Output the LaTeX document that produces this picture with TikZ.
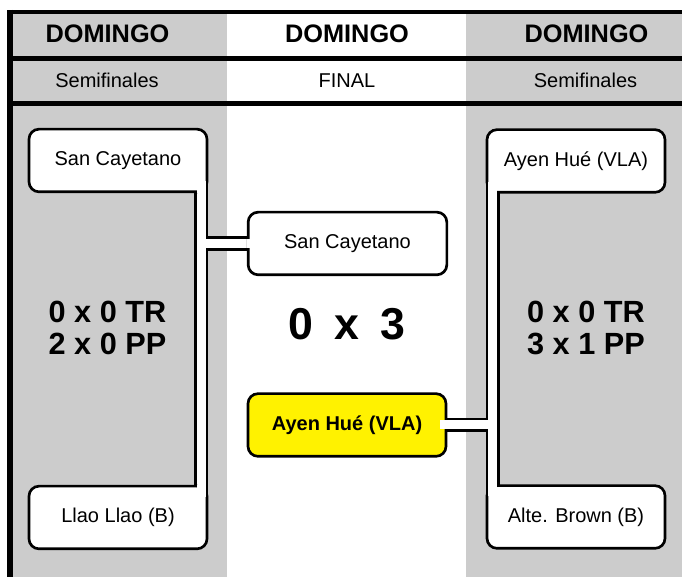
\documentclass[tikz,border=0pt]{standalone}
\usepackage{fontspec}
\setmainfont{Liberation Sans}
\pgfdeclarelayer{back}
\pgfdeclarelayer{links}
\pgfsetlayers{back,links,main}
\definecolor{colgray}{RGB}{204,204,204}
\tikzset{
    team/.style={draw, line width=2pt, rounded corners=7.5pt, fill=white, inner sep=0pt, outer sep=0pt,
        minimum width=133.5pt, minimum height=47pt, font=\fontsize{15}{18}\selectfont},
    link/.style={draw=black, line width=2pt, double=white, double distance=6.75pt},
    gap/.style={draw=white, line width=6.75pt},
    hline/.style={line width=3.5pt},
    head/.style={anchor=base, font=\fontsize{19}{22}\selectfont\bfseries},
    sub/.style={anchor=base, font=\fontsize{15}{18}\selectfont},
    score/.style={align=center, font=\fontsize{23}{24}\selectfont\bfseries}
}

\begin{document}
\begin{tikzpicture}[x=0.75pt, y=0.75pt]
    \useasboundingbox (0,0) rectangle (682,577);
    \node[team] (sl1) at (118,416.5) {San Cayetano};
    \node[team] (sl2) at (118,59.5) {Llao Llao (B)};
    \node[team, minimum width=149pt] (sf1) at (347.5,333.5) {San Cayetano};
    \node[team, minimum width=148.5pt, fill=yellow, font=\fontsize{15}{18}\selectfont\bfseries] (sf2) at (347,152) {Ayen Hué (VLA)};
    \node[team] (sr1) at (576,416) {Ayen Hué (VLA)};
    \node[team] (sr2) at (576,60) {Alte. Brown (B)};
    \node[head] (d1) at (107.5,534.7) {DOMINGO};
    \node[head] (d2) at (347,534.7) {DOMINGO};
    \node[head] (d3) at (586.5,534.7) {DOMINGO};
    \node[sub] (t1) at (107,489.7) {Semifinales};
    \node[sub] (t2) at (347,489.7) {FINAL};
    \node[sub] (t3) at (585.5,489.7) {Semifinales};
    \node[score] (p1) at (107.5,249) {0 x 0 TR\\2 x 0 PP};
    \node[score] (p3) at (586,249) {0 x 0 TR\\3 x 1 PP};
    \node[anchor=base, font={\fontsize{33.5}{40}\selectfont\bfseries\spaceskip=.47em\relax}] (res) at (347,237) {0 x 3};
    \coordinate (lt) at ([xshift=-4.375pt]sl1.south east);
    \coordinate (lb) at ([xshift=-4.375pt]sl2.north east);
    \coordinate (rt) at ([xshift=4.375pt]sr1.south west);
    \coordinate (rb) at ([xshift=4.375pt]sr2.north west);
    \begin{pgfonlayer}{back}
        \fill[colgray] (10,0) rectangle (227,565);
        \fill[colgray] (466,0) rectangle (682,565);
        \draw[hline] (8,565) -- (682,565) (8,518.5) -- (682,518.5) (8,473.5) -- (682,473.5);
        \draw[line width=4pt] (10,567) -- (10,0);
    \end{pgfonlayer}
    \begin{pgfonlayer}{links}
        \draw[link] ([yshift=20pt]lt) -- ([yshift=-20pt]lb) (lt |- sf1.west) -- (sf1.west);
        \draw[link] ([yshift=20pt]rt) -- ([yshift=-20pt]rb) (rt |- sf2.east) -- (sf2.east);
    \end{pgfonlayer}
    \draw[gap] ([yshift=8pt]lt) -- ([yshift=-1.2pt]lt);
    \draw[gap] ([yshift=-8pt]lb) -- ([yshift=1.2pt]lb);
    \draw[gap] ([yshift=8pt]rt) -- ([yshift=-1.2pt]rt);
    \draw[gap] ([yshift=-8pt]rb) -- ([yshift=1.2pt]rb);
    \draw[gap] ([xshift=-1.2pt]sf1.west) -- ([xshift=2pt]sf1.west);
    \draw[gap] ([xshift=-4.5pt]sf2.east) -- ([xshift=1.2pt]sf2.east);
\end{tikzpicture}
\end{document}
